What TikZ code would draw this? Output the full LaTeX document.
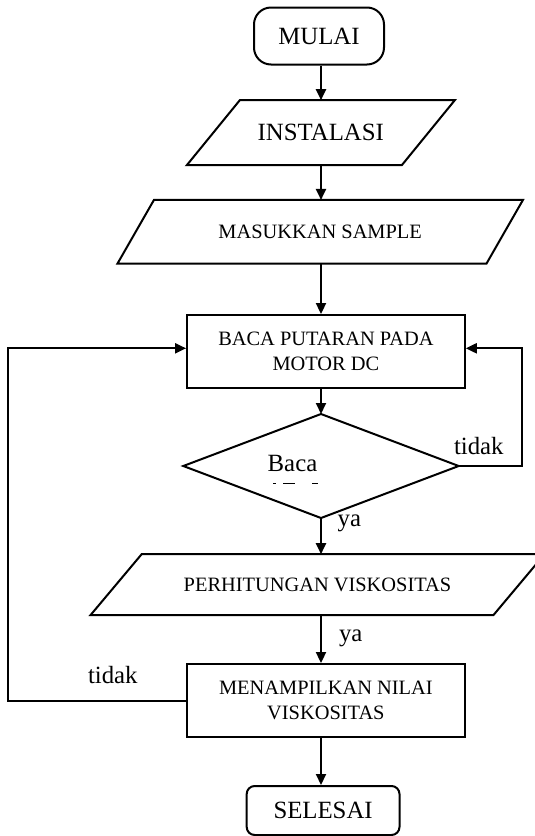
\documentclass[tikz,border=0pt]{standalone}
\usepackage{fontspec}
\setmainfont{Liberation Serif}
\usetikzlibrary{arrows.meta}
\begin{document}
\begin{tikzpicture}[x=1pt,y=-1pt,
  line width=2pt,
  big/.style={font=\fontsize{24.8}{29}\selectfont},
  med/.style={font=\fontsize{20.4}{25}\selectfont},
  term/.style={draw, inner sep=0pt, big},
  procbox/.style={draw, inner sep=0pt, med, align=center},
  iobox/.style={inner sep=0pt},
  arr/.style={-{Triangle[length=11pt,width=10pt]}},
  lbl/.style={big, inner sep=0pt, anchor=base west}
]
\useasboundingbox (0,0) rectangle (535,836);
\coordinate (sp) at (321,0);
\coordinate (rloop) at (522,0);
\coordinate (lloop) at (7.5,0);

% MULAI
\node[term, rounded corners=17pt, minimum width=130pt, minimum height=57pt] (mulai) at (319,36) {MULAI};

% INSTALASI
\node[iobox, big, minimum width=213pt, minimum height=63pt] (inst) at (320.8,132.7) {INSTALASI};
\draw ([xshift=26.5pt]inst.north west) -- ([xshift=26.5pt]inst.north east) -- ([xshift=-26.5pt]inst.south east) -- ([xshift=-26.5pt]inst.south west) -- cycle;

% MASUKKAN SAMPLE
\node[iobox, med, minimum width=367pt, minimum height=61.7pt] (masuk) at (320.2,231.8) {MASUKKAN SAMPLE};
\draw ([xshift=18.25pt]masuk.north west) -- ([xshift=18.25pt]masuk.north east) -- ([xshift=-18.25pt]masuk.south east) -- ([xshift=-18.25pt]masuk.south west) -- cycle;

% BACA PUTARAN
\node[procbox, minimum width=277.7pt, minimum height=73.3pt] (baca) at (325.9,351.7) {BACA PUTARAN PADA\\MOTOR DC};

% decision
\node[inner sep=0pt, minimum width=273.4pt, minimum height=102pt] (dec) at (321,466) {};
\draw (dec.north) -- (dec.east) -- (dec.south) -- (dec.west) -- cycle;
\node[lbl] (bacatxt) at (266.7,471.7) {Baca};
\draw[line width=1pt, dash pattern=on 3pt off 7pt on 12pt off 17pt on 6pt] (273,483) -- (318,483);

% PERHITUNGAN
\node[iobox, med, minimum width=400.9pt, minimum height=59pt] (perh) at (317.5,584.7) {PERHITUNGAN VISKOSITAS};
\draw ([xshift=25.6pt]perh.north west) -- ([xshift=25.6pt]perh.north east) -- ([xshift=-25.6pt]perh.south east) -- ([xshift=-25.6pt]perh.south west) -- cycle;

% MENAMPILKAN
\node[procbox, minimum width=277.7pt, minimum height=73.3pt] (menam) at (325.9,700.7) {MENAMPILKAN NILAI\\VISKOSITAS};

% SELESAI
\node[term, rounded corners=8pt, minimum width=152.8pt, minimum height=49pt] (selesai) at (323.1,810.5) {SELESAI};

% connectors
\draw[arr] (mulai.south -| sp) -- (inst.north -| sp);
\draw[arr] (inst.south -| sp) -- (masuk.north -| sp);
\draw[arr] (masuk.south -| sp) -- (baca.north -| sp);
\draw[arr] (baca.south -| sp) -- (dec.north);
\draw[arr] (dec.south) -- (perh.north -| sp);
\draw[arr] (perh.south -| sp) -- (menam.north -| sp);
\draw[arr] (menam.south -| sp) -- (selesai.north -| sp);
\draw[arr] (dec.east) -- (dec.east -| rloop) |- ([yshift=3.4pt]baca.east);
\draw[arr] (menam.west) -- (menam.west -| lloop) |- ([yshift=3.4pt]baca.west);

% labels
\node[lbl] (tidak1) at (453,454) {tidak};
\node[lbl] (ya1) at (336.7,526) {ya};
\node[lbl] (ya2) at (338,641) {ya};
\node[lbl] (tidak2) at (87,683) {tidak};
\end{tikzpicture}
\end{document}
